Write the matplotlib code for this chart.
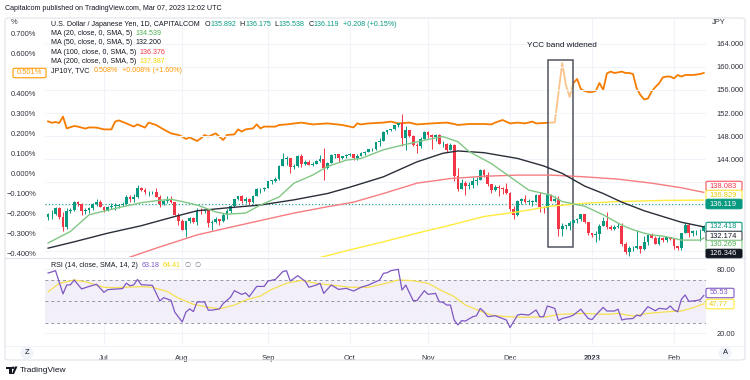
import numpy as np
import pandas as pd
import matplotlib
matplotlib.use("Agg")
import matplotlib.pyplot as plt
from matplotlib.patches import Rectangle, FancyBboxPatch, Ellipse, Polygon

plt.rcParams['font.family'] = ['Liberation Sans', 'DejaVu Sans']

# ---------------- data ----------------
dates = pd.bdate_range('2022-06-10', '2023-02-13')

opens = [133.9,134.4,134.4,135.5,134.0,132.2,135.0,135.1,136.6,136.2,
         134.9,135.2,135.4,136.1,136.6,135.7,135.2,135.7,135.9,135.9,
         136.0,136.1,137.4,137.0,137.4,139.0,138.6,138.2,138.2,138.2,
         137.4,136.1,136.7,137.0,136.5,134.3,133.3,131.6,133.2,133.8,
         133.0,135.0,134.9,135.1,132.9,133.0,133.5,133.3,134.2,135.0,
         135.9,137.0,137.5,136.7,137.1,136.5,137.5,138.7,138.7,138.9,
         140.2,140.2,140.5,142.8,144.0,144.1,142.6,142.8,144.6,143.2,
         143.5,142.9,143.2,143.7,144.0,142.4,143.3,144.7,144.8,144.1,
         144.5,144.7,144.8,144.1,144.6,145.1,145.3,145.7,145.8,146.9,
         147.2,148.7,149.0,149.2,149.9,150.2,147.7,149.0,148.0,146.4,
         146.3,147.5,148.7,148.2,147.9,148.2,146.6,146.6,145.6,146.4,
         141.0,138.8,139.9,139.3,139.5,140.2,140.4,142.1,141.2,139.6,
         138.6,139.2,138.9,138.7,138.1,135.3,134.3,136.7,137.0,136.6,
         136.6,136.6,137.7,135.6,135.5,137.8,136.7,137.0,131.8,132.4,
         132.4,132.9,133.4,133.5,134.5,133.0,131.1,130.8,131.0,132.4,
         133.3,132.1,131.9,132.2,132.4,129.2,127.9,128.5,128.5,128.9,
         128.4,129.6,130.7,130.2,129.2,130.2,129.9,130.4,130.1,128.9,
         128.6,131.2,132.6,131.1,131.4,131.4,131.4]
highs = [134.6,135.2,135.6,135.6,134.7,135.4,135.4,136.7,136.7,136.3,
         135.4,135.6,136.4,137.0,136.8,135.9,135.9,136.4,136.3,136.2,
         136.6,137.7,137.7,137.9,139.4,139.1,138.9,138.4,138.4,138.9,
         137.7,136.8,137.5,137.5,136.6,134.6,133.5,133.3,134.0,134.0,
         135.5,135.5,135.2,135.2,133.4,133.9,133.6,134.6,135.3,136.0,
         137.0,137.6,137.7,137.4,137.2,137.8,138.9,138.9,139.1,140.2,
         140.4,140.8,143.0,145.0,144.5,144.2,143.1,144.7,144.9,143.8,
         143.8,143.4,143.8,144.7,145.9,143.4,144.8,144.9,144.9,144.6,
         144.8,145.0,144.9,144.8,145.2,145.4,145.8,145.9,146.9,147.7,
         148.9,149.1,149.3,149.9,150.3,151.9,149.7,149.1,148.2,146.7,
         147.9,148.8,148.8,148.3,148.4,148.4,147.1,146.7,146.8,146.6,
         142.5,140.5,140.2,140.0,140.8,140.8,142.2,142.2,141.8,139.7,
         139.4,139.4,139.1,139.9,138.2,135.9,136.8,137.3,137.8,137.1,
         136.9,137.9,138.2,135.9,138.0,138.0,137.5,137.5,132.8,132.6,
         133.2,133.5,133.7,134.5,134.5,133.1,131.2,131.5,132.7,134.0,
         134.8,132.5,132.5,132.9,132.9,129.6,128.9,128.9,131.6,128.9,
         130.6,130.9,131.1,130.6,130.6,130.4,130.5,130.5,130.2,128.9,
         131.2,132.9,132.9,131.6,131.7,131.9,132.6]
lows = [133.4,133.6,134.3,133.6,131.5,131.9,134.6,134.9,135.8,134.3,
        134.5,134.6,135.1,135.9,135.6,134.8,135.0,135.3,135.2,135.5,
        135.9,136.0,136.6,136.6,137.3,138.4,137.9,137.6,137.9,137.4,
        135.6,136.0,136.4,136.3,134.2,132.5,131.6,130.4,132.9,132.9,
        132.5,134.4,134.6,132.1,131.7,132.9,132.6,133.0,133.6,134.6,
        135.7,136.8,136.3,136.3,136.2,136.3,137.5,138.1,138.4,138.9,
        139.7,140.0,140.4,142.7,142.9,141.5,142.2,142.6,142.6,143.0,
        142.9,142.8,143.1,143.5,140.4,142.3,143.3,144.2,143.5,144.0,
        144.2,144.5,143.9,143.8,144.5,144.7,145.2,145.4,145.6,146.3,
        147.1,148.4,148.9,149.0,149.6,146.2,145.6,147.9,146.2,145.1,
        145.9,147.5,147.7,145.7,147.2,146.6,146.1,145.3,145.5,140.2,
        138.5,138.7,137.7,138.7,139.0,139.5,140.3,140.9,139.3,138.1,
        138.4,137.5,137.9,137.9,135.0,133.6,134.1,136.2,136.4,136.2,
        135.8,136.5,134.7,134.6,135.3,136.7,136.5,130.6,130.6,131.9,
        131.7,132.6,132.8,133.3,132.9,130.8,130.4,129.5,129.9,132.3,
        131.9,131.6,131.6,132.0,128.9,127.5,127.2,128.0,128.4,127.6,
        128.2,129.1,130.2,129.2,129.0,129.6,129.6,129.9,128.4,128.1,
        128.1,131.2,130.5,130.6,130.8,129.8,131.3]
closes = [134.4,134.4,135.5,134.0,132.2,135.0,135.1,136.6,136.2,134.9,
          135.2,135.4,136.1,136.6,135.7,135.2,135.7,135.9,135.9,136.0,
          136.1,137.4,137.0,137.4,139.0,138.6,138.2,138.2,138.2,137.4,
          136.1,136.7,137.0,136.5,134.3,133.3,131.6,133.2,133.8,133.0,
          135.0,134.9,135.1,132.9,133.0,133.5,133.3,134.2,135.0,135.9,
          137.0,137.5,136.7,137.1,136.5,137.5,138.7,138.7,138.9,140.2,
          140.2,140.5,142.8,144.0,144.1,142.6,142.8,144.6,143.2,143.5,
          142.9,143.2,143.7,144.0,142.4,143.3,144.7,144.8,144.1,144.5,
          144.7,144.8,144.1,144.6,145.1,145.3,145.7,145.8,146.9,147.2,
          148.7,149.0,149.2,149.9,150.2,147.7,149.0,148.0,146.4,146.3,
          147.5,148.7,148.2,147.9,148.2,146.6,146.6,145.6,146.4,141.0,
          138.8,139.9,139.3,139.5,140.2,140.4,142.1,141.2,139.6,138.6,
          139.2,138.9,138.7,138.1,135.3,134.3,136.7,137.0,136.6,136.6,
          136.6,137.7,135.6,135.5,137.8,136.7,137.0,131.8,132.4,132.4,
          132.9,133.4,133.5,134.5,133.0,131.1,130.8,131.0,132.4,133.3,
          132.1,131.9,132.2,132.4,129.2,127.9,128.5,128.5,128.9,128.4,
          129.6,130.7,130.2,129.2,130.2,129.9,130.4,130.1,128.9,128.6,
          131.2,132.6,131.1,131.4,131.4,131.4,132.4]

ma20_idx = [0, 6, 11, 16, 20, 25, 29, 33, 36, 40, 45, 48, 53, 57, 62, 66, 71, 75, 80, 84,
            90, 95, 102, 106, 110, 113, 119, 124, 129, 135, 138, 144, 149, 154, 157, 160,
            162, 165, 168, 170, 172, 175, 176]
ma20_val = [129.4, 131.4, 134.3, 135.1, 135.7, 136.4, 136.75, 137.0, 136.6, 136.0, 134.8,
            134.4, 134.6, 136.0, 137.4, 139.8, 141.2, 142.7, 143.8, 144.1, 145.6, 146.4,
            147.4, 147.9, 147.0, 145.3, 143.2, 140.9, 138.6, 137.7, 136.6, 135.8, 134.3,
            132.5, 131.7, 131.1, 130.8, 130.6, 130.2, 129.9, 129.9, 129.9, 130.27]
ma50_idx = [0, 7, 16, 25, 34, 40, 48, 57, 66, 75, 81, 90, 99, 106, 110, 117, 126, 133,
            138, 144, 149, 154, 160, 165, 170, 176]
ma50_val = [128.5, 129.6, 131.1, 132.4, 134.0, 135.0, 135.5, 136.0, 136.9, 138.0, 139.1,
            140.9, 143.5, 145.0, 145.4, 145.1, 144.1, 142.8, 141.5, 139.3, 138.0, 136.5,
            135.0, 134.0, 133.0, 132.2]
ma100_idx = [20, 29, 40, 48, 57, 66, 75, 82, 90, 99, 108, 117, 126, 135, 144, 153, 162, 170, 176]
ma100_val = [126.5, 128.5, 130.8, 132.0, 133.3, 134.6, 135.7, 136.5, 138.0, 139.8, 140.6,
             141.0, 141.2, 141.2, 140.9, 140.5, 139.8, 139.0, 138.2]
ma200_idx = [72, 81, 90, 99, 108, 117, 126, 135, 144, 153, 165, 176]
ma200_val = [126.7, 128.2, 129.6, 131.1, 132.5, 134.0, 134.8, 135.8, 136.3, 136.6, 136.8, 136.85]

last_price = 136.119

jp_idx = [0, 1, 2, 3, 4, 5, 7, 8, 10, 11, 13, 15, 17, 18, 19, 21, 23, 24, 26, 27, 29, 31,
          33, 35, 36, 37, 38, 40, 41, 42, 43, 45, 47, 48, 50, 51, 52, 53, 55, 56, 57, 58,
          61, 62, 64, 68, 71, 75, 79, 81, 82, 83, 84, 86, 90, 92, 94, 97, 99, 103, 107,
          109, 110, 113, 117, 119, 120, 122, 124, 126, 128, 130, 131, 135, 136, 137, 138,
          139, 140, 141, 142, 143, 144, 145, 146, 147, 148, 149, 150, 151, 152, 153, 154,
          155, 156, 157, 158, 159, 160, 161, 162, 163, 164, 165, 166, 167, 168, 169, 170,
          171, 172, 173, 174, 175, 176]
jp_val = [0.258, 0.251, 0.255, 0.250, 0.282, 0.223, 0.235, 0.232, 0.222, 0.228, 0.227,
          0.218, 0.218, 0.257, 0.263, 0.248, 0.232, 0.243, 0.227, 0.252, 0.240, 0.218,
          0.198, 0.190, 0.182, 0.170, 0.178, 0.160, 0.173, 0.190, 0.182, 0.198, 0.165,
          0.190, 0.193, 0.218, 0.207, 0.218, 0.223, 0.243, 0.223, 0.232, 0.232, 0.240,
          0.243, 0.252, 0.243, 0.248, 0.240, 0.232, 0.228, 0.248, 0.243, 0.248, 0.252,
          0.257, 0.248, 0.252, 0.243, 0.248, 0.252, 0.245, 0.240, 0.245, 0.245, 0.243,
          0.252, 0.265, 0.248, 0.252, 0.248, 0.257, 0.248, 0.252, 0.253, 0.400, 0.550,
          0.440, 0.380, 0.450, 0.470, 0.420, 0.410, 0.405, 0.405, 0.410, 0.450, 0.415,
          0.498, 0.507, 0.500, 0.503, 0.507, 0.500, 0.500, 0.495, 0.423, 0.390, 0.368,
          0.372, 0.407, 0.430, 0.448, 0.478, 0.482, 0.482, 0.473, 0.490, 0.482, 0.490,
          0.490, 0.490, 0.492, 0.495, 0.500]

rsi_idx = [0, 2, 4, 5, 6, 7, 9, 11, 13, 15, 16, 20, 21, 22, 23, 24, 25, 28, 30, 31, 33, 34,
           36, 37, 38, 39, 40, 42, 43, 44, 46, 47, 49, 50, 52, 53, 54, 56, 58, 59, 61, 63,
           64, 65, 67, 69, 70, 72, 73, 74, 76, 78, 80, 82, 84, 86, 87, 89, 90, 91, 92, 94,
           95, 96, 98, 99, 101, 102, 104, 105, 106, 107, 108, 109, 110, 111, 112, 114, 115,
           116, 117, 118, 120, 122, 123, 124, 126, 127, 129, 131, 132, 133, 134, 136, 137,
           138, 140, 141, 143, 145, 146, 147, 149, 150, 152, 153, 154, 155, 157, 158, 159,
           161, 163, 164, 166, 167, 168, 169, 170, 171, 172, 174, 175, 176]
rsi_val = [76.5, 78.7, 57.0, 65.3, 65.5, 70.0, 61.6, 64.0, 66.0, 58.5, 61.0, 62.0, 67.0,
           64.6, 65.5, 70.5, 65.6, 65.0, 50.4, 53.5, 51.0, 40.0, 30.8, 40.0, 43.0, 40.5,
           49.5, 49.5, 41.8, 41.8, 43.0, 48.0, 54.0, 60.0, 56.5, 58.0, 54.4, 64.0, 64.0,
           69.0, 70.5, 77.8, 78.7, 69.0, 74.0, 69.0, 63.2, 65.3, 66.9, 57.5, 65.3, 61.2,
           62.2, 59.7, 63.2, 65.3, 66.9, 70.0, 76.2, 76.8, 78.7, 80.0, 60.6, 65.3, 50.7,
           50.7, 60.0, 56.6, 57.5, 49.7, 49.1, 46.6, 46.6, 32.6, 28.0, 32.0, 31.6, 35.7,
           36.6, 43.5, 40.3, 35.7, 36.6, 34.0, 32.6, 25.5, 37.2, 38.0, 37.2, 42.0, 35.7,
           35.7, 45.7, 43.5, 32.0, 34.0, 35.7, 37.2, 42.7, 34.0, 33.0, 37.2, 44.4, 41.0,
           41.0, 42.7, 32.6, 33.5, 34.0, 37.2, 36.3, 45.1, 41.3, 43.5, 42.7, 45.8, 42.0,
           40.3, 52.0, 56.0, 50.0, 50.8, 51.5, 55.5]
rsisma_idx = [0, 3, 7, 10, 15, 18, 25, 28, 32, 35, 39, 43, 46, 50, 53, 57, 60, 64, 68, 72,
              76, 81, 86, 90, 94, 98, 102, 105, 109, 112, 116, 119, 123, 128, 134, 137, 144,
              150, 153, 157, 161, 166, 170, 173, 176]
rsisma_val = [59.0, 66.9, 70.0, 68.4, 63.2, 62.8, 63.8, 63.2, 59.2, 53.0, 47.3, 44.5, 43.0,
              46.6, 51.3, 55.0, 61.2, 66.9, 69.7, 66.9, 65.3, 63.2, 63.2, 66.3, 70.0, 69.4,
              66.9, 61.2, 54.4, 46.6, 41.0, 37.2, 35.7, 35.1, 35.7, 37.9, 38.8, 37.9, 38.8,
              36.3, 38.8, 40.3, 41.0, 44.0, 47.77]

month_labels = ['Jul', 'Aug', 'Sep', 'Oct', 'Nov', 'Dec', '2023', 'Feb']
jpy_ticks = [128, 132, 136, 140, 144, 148, 152, 156, 160, 164]
jpy_hidden = [128, 132, 136, 140]          # covered by value boxes
pct_ticks = [-0.4, -0.3, -0.2, -0.1, 0.0, 0.1, 0.2, 0.3, 0.4, 0.5, 0.6, 0.7]
pct_hidden = [0.5]
rsi_ticks = [20, 40, 60, 80]
rsi_hidden = [40, 60]

# ---------------- styling ----------------
W, H = 750, 380
UP, DN = '#089981', '#F23645'
TXT = '#131722'
AX_TXT = '#2E313B'
GRID = '#F0F3FA'
FS = 5.4
FSL = 5.1
C_MA20, C_MA50, C_MA100, C_MA200 = '#81C784', '#2A2E39', '#F77C80', '#FFEB3B'
C_JP = '#F57C00'
C_RSI, C_RSISMA = '#7E57C2', '#F5E04F'

def fx(x):
    return x / W

def fy(y):
    return 1 - y / H

fig = plt.figure(figsize=(W / 100, H / 100), dpi=100)
fig.patch.set_facecolor('white')

PL, PR = 45, 706
MT, MB = 18, 257
RT, RB = 258, 345

axp = fig.add_axes([fx(PL), fy(MB), (PR - PL) / W, (MB - MT) / H])
axm = axp.twinx()
axr = fig.add_axes([fx(PL), fy(RB), (PR - PL) / W, (RB - RT) / H])

x = np.arange(len(dates))
xlim = (-0.83, 176.6)
for a in (axp, axm, axr):
    a.set_xlim(*xlim)
    for s in a.spines.values():
        s.set_visible(False)

month_pos = []
for (yr, mo) in [(2022, 7), (2022, 8), (2022, 9), (2022, 10), (2022, 11), (2022, 12), (2023, 1), (2023, 2)]:
    month_pos.append(int(np.argmax((dates.year == yr) & (dates.month == mo))))

# ---- percent axis (JP10Y), left ----
axp.set_ylim(-0.42, 0.775)
axp.set_yticks(pct_ticks)
axp.set_yticklabels(['' if v in pct_hidden else ('\u2212' if v < 0 else '') + f'{abs(v):.3f}%'
                     for v in pct_ticks])
axp.tick_params(axis='y', left=False, labelleft=True, labelsize=FS, pad=2.9, colors=AX_TXT)
axp.set_xticks([])
for mp in month_pos:
    axp.axvline(mp, color=GRID, lw=0.8, zorder=0)
axp.plot(jp_idx, jp_val, color=C_JP, lw=1.3, zorder=2, solid_joinstyle='round')

# ---- JPY axis, right ----
axm.set_ylim(126.96, 168.52)
axm.set_yticks(jpy_ticks)
axm.set_yticklabels(['' if v in jpy_hidden else f'{v:.3f}' for v in jpy_ticks])
axm.tick_params(axis='y', right=False, labelright=True, labelsize=FS, pad=4.3, colors=AX_TXT)
axm.set_axisbelow(True)
axm.grid(axis='y', color=GRID, lw=0.8)

axm.add_patch(Rectangle((134.2, 128.7), 6.7, 32.5, facecolor=(1, 1, 1, 0.55),
                        edgecolor='#50535E', lw=1.1, zorder=1))

o = np.array(opens); h = np.array(highs); l = np.array(lows); c = np.array(closes)
col = np.where(c >= o, UP, DN)
axm.vlines(x, l, h, colors=col, lw=0.7, zorder=3)
body_lo = np.minimum(o, c)
body_h = np.maximum(np.abs(c - o), 0.08)
axm.bar(x, body_h, bottom=body_lo, width=0.74, color=col, linewidth=0, zorder=4)

axm.axhline(last_price, color=UP, lw=0.8, ls=(0, (1, 2)), zorder=2)
axm.plot(ma200_idx, ma200_val, color=C_MA200, lw=1.0, zorder=5)
axm.plot(ma100_idx, ma100_val, color=C_MA100, lw=1.0, zorder=5)
axm.plot(ma50_idx, ma50_val, color=C_MA50, lw=1.0, zorder=5)
axm.plot(ma20_idx, ma20_val, color=C_MA20, lw=1.0, zorder=5)
axm.text(137.8, 163.7, 'YCC band widened', ha='center', va='center', fontsize=5.9, color=TXT, zorder=6)

# ---- RSI pane ----
axr.set_ylim(9.25, 90.56)
axr.axhspan(30, 70, color=C_RSI, alpha=0.09, lw=0, zorder=0)
for lv in (70, 50, 30):
    axr.axhline(lv, color='#9598A1', lw=0.7, ls=(0, (3, 3)), zorder=1)
for mp in month_pos:
    axr.axvline(mp, color=GRID, lw=0.8, zorder=0)
for rv in rsi_ticks:
    axr.axhline(rv, color=GRID, lw=0.8, zorder=0)
axr.plot(rsisma_idx, rsisma_val, color=C_RSISMA, lw=0.9, zorder=2)
axr.plot(rsi_idx, rsi_val, color=C_RSI, lw=0.9, zorder=3)
axr.yaxis.tick_right()
axr.set_yticks(rsi_ticks)
axr.set_yticklabels(['' if v in rsi_hidden else f'{v:.2f}' for v in rsi_ticks])
axr.tick_params(axis='y', right=False, labelright=True, labelsize=FS, pad=4.3, colors=AX_TXT)
axr.set_xticks(month_pos)
axr.set_xticklabels(month_labels)
axr.tick_params(axis='x', bottom=False, labelsize=FS, pad=3.4, colors=AX_TXT)
for lab in axr.get_xticklabels():
    if lab.get_text() == '2023':
        lab.set_fontweight('bold')

# ---------------- figure furniture ----------------
def hline_px(y, x0, x1, color='#E0E3EB', lw=0.8):
    fig.add_artist(plt.Line2D([fx(x0), fx(x1)], [fy(y), fy(y)], transform=fig.transFigure,
                              color=color, lw=lw, zorder=2))

frame = FancyBboxPatch((fx(5), fy(360)), 740 / W, 342 / H,
                       boxstyle='round,pad=0,rounding_size=0.006', transform=fig.transFigure,
                       fill=False, ec='#E0E3EB', lw=0.8, zorder=2)
fig.patches.append(frame)
hline_px(257.5, 5, 745)
hline_px(346, 5, 745, color='#F0F3FA')

fig.text(fx(5), fy(8), 'Capitalcom published on TradingView.com, Mar 07, 2023 12:02 UTC',
         fontsize=FSL, color=TXT, ha='left', va='center')
fig.text(fx(14), fy(23), '%', fontsize=FS, color=AX_TXT, ha='center', va='center')
fig.text(fx(712), fy(23), 'JPY', fontsize=FS, color=AX_TXT, ha='left', va='center')

renderer = fig.canvas.get_renderer()

def seq(x0, y, parts, size=FSL):
    xx = x0
    for s, colr, gap in parts:
        t = fig.text(fx(xx), fy(y), s, color=colr, fontsize=size, ha='left', va='center', zorder=6)
        xx += t.get_window_extent(renderer).width + gap

seq(51, 24, [('U.S. Dollar / Japanese Yen, 1D, CAPITALCOM', TXT, 4.5),
             ('O', TXT, 0.3), ('135.892', UP, 3.5), ('H', TXT, 0.3), ('136.175', UP, 3.5),
             ('L', TXT, 0.3), ('135.538', UP, 3.5), ('C', TXT, 0.3), ('136.119', UP, 3.5),
             ('+0.208 (+0.15%)', UP, 0)])
seq(51, 33.5, [('MA (20, close, 0, SMA, 5)', TXT, 3.5), ('134.539', '#4CAF50', 0)])
seq(51, 43, [('MA (50, close, 0, SMA, 5)', TXT, 3.5), ('132.200', TXT, 0)])
seq(51, 52, [('MA (100, close, 0, SMA, 5)', TXT, 3.5), ('136.376', DN, 0)])
seq(51, 61.5, [('MA (200, close, 0, SMA, 5)', TXT, 3.5), ('137.387', '#F2D600', 0)])
seq(51, 71, [('JP10Y, TVC', TXT, 4.5), ('0.508%', '#FF9800', 3.5), ('+0.008% (+1.60%)', '#FF9800', 0)])
seq(51, 265.5, [('RSI (14, close, SMA, 14, 2)', TXT, 3.5), ('63.18', C_RSI, 3.5),
                ('64.41', '#F2D600', 4), ('\u2205', '#787B86', 3), ('\u2205', '#787B86', 0)])

def pbox(y, s, fc, ec, tc, x0=706, x1=742, h=9.5):
    p = FancyBboxPatch((fx(x0), fy(y + h / 2)), (x1 - x0) / W, h / H,
                       boxstyle='round,pad=0,rounding_size=0.003', transform=fig.transFigure,
                       fc=fc, ec=ec, lw=0.8, zorder=5)
    fig.patches.append(p)
    fig.text(fx(x0 + 3.3), fy(y), s, color=tc, fontsize=FS, ha='left', va='center', zorder=6)

pbox(186, '138.083', 'white', '#F7525F', DN)
pbox(195, '136.829', 'white', '#FFEB3B', '#E8CC00')
pbox(204, '136.119', UP, UP, 'white')
pbox(227, '132.418', 'white', UP, UP)
pbox(236, '132.174', 'white', '#434651', TXT)
pbox(245, '130.269', 'white', '#81C784', '#4CAF50')
pbox(253.5, '126.346', TXT, TXT, 'white', h=8.5)
pbox(293, '55.53', 'white', C_RSI, C_RSI, x1=734)
pbox(304, '47.77', 'white', '#FFEB3B', '#E8CC00', x1=734)
pbox(73, '0.501%', 'white', '#FF9800', '#FF9800', x0=13, x1=46)

for cx, lab in ((27, 'Z'), (725, 'A')):
    fig.patches.append(Ellipse((fx(cx), fy(353)), 13 / W, 13 / H, transform=fig.transFigure,
                               fc='#F0F3FA', ec='none', zorder=3))
    fig.text(fx(cx), fy(353), lab, fontsize=FS, color=TXT, ha='center', va='center', zorder=4)

fig.patches.append(Polygon([(fx(6), fy(366.5)), (fx(11.5), fy(366.5)), (fx(11.5), fy(374)),
                            (fx(9.2), fy(374)), (fx(9.2), fy(368.8)), (fx(6), fy(368.8))],
                           closed=True, transform=fig.transFigure, fc=TXT, ec='none', zorder=3))
fig.patches.append(Ellipse((fx(13.2), fy(367.8)), 2.6 / W, 2.6 / H, transform=fig.transFigure,
                           fc=TXT, ec='none', zorder=3))
fig.patches.append(Polygon([(fx(15), fy(366.5)), (fx(17.5), fy(366.5)), (fx(14), fy(374)),
                            (fx(11.8), fy(374))], closed=True, transform=fig.transFigure,
                           fc=TXT, ec='none', zorder=3))
fig.text(fx(19.5), fy(370.5), 'TradingView', fontsize=6.0, color=TXT, ha='left', va='center')

fig.savefig('out.png', dpi=100, facecolor='white')
